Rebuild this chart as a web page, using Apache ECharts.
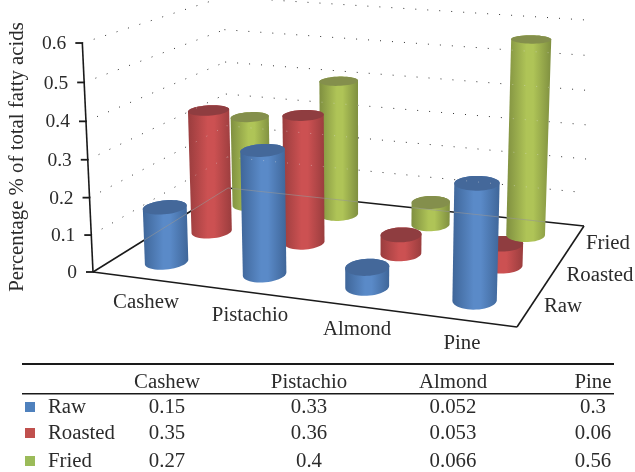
<!DOCTYPE html>
<html>
<head>
<meta charset="utf-8">
<style>
  html, body { margin: 0; padding: 0; background: #fff; }
  #chart { width: 635px; height: 472px; }
</style>
<script src="https://cdn.jsdelivr.net/npm/echarts@6/dist/echarts.min.js"></script>
</head>
<body>
<div id="chart"></div>
<script>
const categories = ["Cashew", "Pistachio", "Almond", "Pine"];
const seriesNames = ["Raw", "Roasted", "Fried"];
const raw = [0.15, 0.33, 0.052, 0.3];
const roasted = [0.35, 0.36, 0.053, 0.06];
const fried = [0.27, 0.4, 0.066, 0.56];
const tableRaw = ["0.15", "0.33", "0.052", "0.3"];
const tableRoasted = ["0.35", "0.36", "0.053", "0.06"];
const tableFried = ["0.27", "0.4", "0.066", "0.56"];
const tickLabels = ["0", "0.1", "0.2", "0.3", "0.4", "0.5", "0.6"];

const FONT = '"Liberation Serif", serif';
const TEXT = "#2b2b2b";

// floor corners on screen: front left, front right, back right, back left
const A = [93, 272], B = [517, 327], C = [584, 226], D = [228, 188];
// vanishing point of the verticals, and how much w shrinks at full height
const VP = [360, 6000], K = -0.03844;

const sx = A[0] - B[0] + C[0] - D[0], sy = A[1] - B[1] + C[1] - D[1];
const dx1 = B[0] - C[0], dx2 = D[0] - C[0], dy1 = B[1] - C[1], dy2 = D[1] - C[1];
const den = dx1 * dy2 - dx2 * dy1;
const g = (sx * dy2 - dx2 * sy) / den, h = (dx1 * sy - sx * dy1) / den;
const a = B[0] - A[0] + g * B[0], b = D[0] - A[0] + h * D[0];
const d = B[1] - A[1] + g * B[1], e = D[1] - A[1] + h * D[1];

// u along the categories, v into the depth, t = 0..1 of the value axis
function project(u, v, t) {
    const w = g * u + h * v + 1 + K * t;
    return [
        (a * u + b * v + A[0] + K * t * VP[0]) / w,
        (d * u + e * v + A[1] + K * t * VP[1]) / w,
    ];
}

function hull(points) {
    const p = points.slice().sort((m, n) => m[0] - n[0] || m[1] - n[1]);
    const cross = (o, m, n) => (m[0] - o[0]) * (n[1] - o[1]) - (m[1] - o[1]) * (n[0] - o[0]);
    const half = (list) => {
        const out = [];
        list.forEach((q) => {
            while (out.length > 1 && cross(out[out.length - 2], out[out.length - 1], q) <= 0) out.pop();
            out.push(q);
        });
        out.pop();
        return out;
    };
    return half(p).concat(half(p.slice().reverse()));
}

function axisFrac(api, value) {
    const y0 = api.coord([0, 0])[1], y1 = api.coord([0, 0.6])[1];
    return (y0 - api.coord([0, value])[1]) / (y0 - y1);
}

function line(p, q, stroke, width, dash) {
    return {
        type: "line",
        shape: { x1: p[0], y1: p[1], x2: q[0], y2: q[1] },
        style: { stroke: stroke, lineWidth: width, lineDash: dash || null },
    };
}

function label(text, x, y, align, size) {
    return {
        type: "text",
        style: { text: text, x: x, y: y, align: align, verticalAlign: "middle", font: size + "px " + FONT, fill: TEXT },
    };
}

// lines standing behind the bars; the bars let them show through a little
function backLines(api, stroke, dotStroke, width) {
    const out = [];
    tickLabels.forEach((tick) => {
        const t = axisFrac(api, parseFloat(tick));
        if (t > 0) {
            out.push(line(project(0, 0, t), project(0, 1, t), dotStroke, 1, [1, 11]));
            out.push(line(project(0, 1, t), project(1, 1, t), dotStroke, 1, [1, 11]));
        }
    });
    out.push(line(A, D, stroke, width));
    out.push(line(D, C, stroke, width));
    return out;
}

function renderFrame(params, api) {
    const children = backLines(api, "#1a1a1a", "#333", 1.5);
    children.push(line(A, B, "#1a1a1a", 1.6));
    children.push(line(B, C, "#1a1a1a", 1.6));
    children.push(line(project(0, 0, 0), project(0, 0, 1), "#1a1a1a", 1.6));
    tickLabels.forEach((tick) => {
        const p = project(0, 0, axisFrac(api, parseFloat(tick)));
        children.push(line([p[0] - 7, p[1]], [p[0] + 0.7, p[1]], "#1a1a1a", 1.8));
        children.push(label(tick, p[0] - 16, p[1] + 1, "right", 19.5));
    });
    return { type: "group", children: children };
}

const barColors = [
    { edge: "#3f6699", mid: "#5a8ac8", top: "#44689a" },
    { edge: "#9a3d3e", mid: "#cc5152", top: "#8f3d40" },
    { edge: "#7f8f40", mid: "#afc457", top: "#848f4c" },
];
const RU = 0.048, RV = 0.08;

function renderBar(params, api) {
    const cat = api.value(0), row = api.value(1);
    const u = (cat + 0.5) / categories.length, v = (row + 0.5) / seriesNames.length;
    const t = axisFrac(api, api.value(2));
    const color = barColors[row];
    const base = [], top = [];
    for (let i = 0; i < 48; i++) {
        const angle = (i / 48) * Math.PI * 2;
        const pu = u + RU * Math.cos(angle), pv = v + RV * Math.sin(angle);
        base.push(project(pu, pv, 0));
        top.push(project(pu, pv, t));
    }
    const outline = hull(base.concat(top));
    return {
        type: "group",
        children: [
            {
                type: "polygon",
                shape: { points: outline },
                style: {
                    fill: new echarts.graphic.LinearGradient(0, 0, 1, 0, [
                        { offset: 0, color: color.edge },
                        { offset: 0.45, color: color.mid },
                        { offset: 0.6, color: color.mid },
                        { offset: 1, color: color.edge },
                    ]),
                },
            },
            { type: "polygon", shape: { points: top }, style: { fill: color.top } },
            {
                type: "group",
                clipPath: { type: "polygon", shape: { points: outline } },
                children: backLines(api, "rgba(150,150,150,0.6)", "rgba(225,225,225,0.45)", 1),
            },
        ],
    };
}

const rows = [raw, roasted, fried];
// back row first; the reference paints the short Pine roasted bar before its fried bar
const barData = [];
barData.push([3, 1, roasted[3]]);
[2, 1, 0].forEach((row) => {
    rows[row].forEach((value, cat) => {
        if (!(row === 1 && cat === 3)) barData.push([cat, row, value]);
    });
});

function tableText() {
    const columns = [167, 309, 453, 593];
    const legendColors = ["#4f81bd", "#c0504d", "#9bbb59"];
    const rowY = [407, 433, 461];
    const cells = [tableRaw, tableRoasted, tableFried];
    const out = [];
    const text = (content, x, y, align) => ({
        type: "text",
        style: { text: content, x: x, y: y, align: align, verticalAlign: "middle", font: "20.8px " + FONT, fill: TEXT },
    });
    out.push({ type: "rect", shape: { x: 22, y: 363, width: 592, height: 2 }, style: { fill: "#1a1a1a" } });
    out.push({ type: "rect", shape: { x: 22, y: 393, width: 592, height: 1.5 }, style: { fill: "#1a1a1a" } });
    categories.forEach((name, i) => out.push(text(name, columns[i], 383, "center")));
    seriesNames.forEach((name, r) => {
        out.push({ type: "rect", shape: { x: 25, y: rowY[r] - 5, width: 10, height: 10 }, style: { fill: legendColors[r] } });
        out.push(text(name, 48, rowY[r] + 1, "left"));
        cells[r].forEach((value, i) => out.push(text(value, columns[i], rowY[r] + 1, "center")));
    });
    // axis title and the labels around the floor
    out.push({
        type: "text",
        rotation: Math.PI / 2,
        x: 18,
        y: 157,
        style: { text: "Percentage % of total fatty acids", x: 0, y: 0, align: "center", verticalAlign: "middle", font: "20.8px " + FONT, fill: TEXT },
    });
    const catLabelPos = [[146, 303], [250, 316], [357, 330], [462, 344]];
    categories.forEach((name, i) => out.push(text(name, catLabelPos[i][0], catLabelPos[i][1], "center")));
    const rowLabelPos = [[563, 307], [600, 276], [608, 244]];
    seriesNames.forEach((name, i) => out.push(text(name, rowLabelPos[i][0], rowLabelPos[i][1], "center")));
    return out;
}

const chart = echarts.init(document.getElementById("chart"), null, { renderer: "canvas" });
chart.setOption({
    animation: false,
    backgroundColor: "#fff",
    grid: { left: 93, right: 100, top: 43, height: 229 },
    xAxis: { type: "category", data: categories, show: false },
    yAxis: { type: "value", min: 0, max: 0.6, interval: 0.1, show: false },
    graphic: tableText(),
    series: [
        { type: "custom", clip: false, silent: true, z: 1, renderItem: renderFrame, data: [[0, 0]] },
        {
            type: "custom",
            clip: false,
            silent: true,
            z: 2,
            renderItem: renderBar,
            encode: { x: 0, y: 2 },
            data: barData,
        },
    ],
});
</script>
</body>
</html>
